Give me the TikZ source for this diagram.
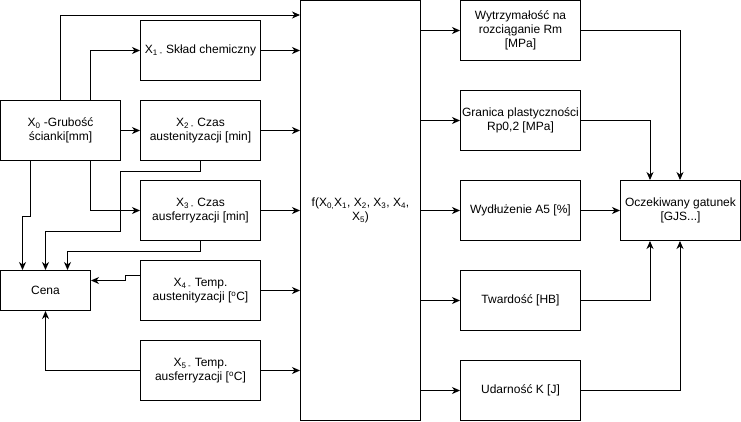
\documentclass[tikz,border=0pt]{standalone}
\usepackage{fontspec}
\setmainfont{Liberation Sans}
\usetikzlibrary{arrows.meta,calc}
\begin{document}
\begin{tikzpicture}[x=1pt,y=-1pt,
  box/.style={draw,line width=1pt,minimum width=120pt,minimum height=60pt,inner sep=1pt,align=center,font=\fontsize{12}{14}\selectfont},
  arr/.style={line width=1pt,-{Stealth[length=8pt,width=7pt,inset=2.5pt]}}]
\useasboundingbox (-0.5,-0.5) rectangle (740.5,420.5);
% left column
\node[box] (X0) at (60,130) {X\textsubscript{0} -Grubość\\ścianki[mm]};
\node[box] (X1) at (200,50) {X\textsubscript{1 -} Skład chemiczny};
\node[box] (X2) at (200,130) {X\textsubscript{2 -} Czas\\austenityzacji [min]};
\node[box] (X3) at (200,210) {X\textsubscript{3 -} Czas\\ausferryzacji [min]};
\node[box] (X4) at (200,290) {X\textsubscript{4 -} Temp.\\austenityzacji [\textsuperscript{o}C]};
\node[box] (X5) at (200,370) {X\textsubscript{5 -} Temp.\\ausferryzacji [\textsuperscript{o}C]};
\node[box,minimum width=90pt,minimum height=40pt] (Cena) at (45,290) {Cena};
% function
\node[box,minimum height=420pt] (f) at (360,210) {f(X\textsubscript{0,}X\textsubscript{1}, X\textsubscript{2}, X\textsubscript{3}, X\textsubscript{4},\\X\textsubscript{5})};
% outputs
\node[box] (Rm) at (520,30) {Wytrzymałość na\\rozciąganie Rm\\{[MPa]}};
\node[box] (Rp) at (520,120) {Granica plastyczności\\Rp0,2 [MPa]};
\node[box] (A5) at (520,210) {Wydłużenie A5 [\%]};
\node[box] (HB) at (520,300) {Twardość [HB]};
\node[box] (K) at (520,390) {Udarność K [J]};
\node[box] (Oc) at (680,210) {Oczekiwany gatunek\\{[GJS...]}};
% connectors from X0
\draw[arr] (X0.north) |- ($(f.north west)+(0,15)$);
\draw[arr] ($(X0.north west)+(90,0)$) |- (X1.west);
\draw[arr] (X0.east) -- (X2.west);
\draw[arr] ($(X0.south west)+(90,0)$) |- (X3.west);
\draw[arr] ($(X0.south west)+(30,0)$) -- ++(0,55) -| ($(Cena.north west)+(22.5,0)$);
% to f
\draw[arr] (X1.east) -- (X1.east -| f.west);
\draw[arr] (X2.east) -- (X2.east -| f.west);
\draw[arr] (X3.east) -- (X3.east -| f.west);
\draw[arr] (X4.east) -- (X4.east -| f.west);
\draw[arr] (X5.east) -- (X5.east -| f.west);
% to Cena
\draw[arr] (X2.south) -- ++(0,10) -- ++(-80,0) -- ++(0,60) -| (Cena.north);
\draw[arr] (X3.south) -- ++(0,10) -| ($(Cena.north west)+(67.5,0)$);
\draw[arr] ($(X4.west)+(0,-15)$) -- ++(-15,0) -- ++(0,5) -- ($(Cena.east)+(0,-10)$);
\draw[arr] (X5.west) -| (Cena.south);
% f to outputs
\draw[arr] (f.east |- Rm.west) -- (Rm.west);
\draw[arr] (f.east |- Rp.west) -- (Rp.west);
\draw[arr] (f.east |- A5.west) -- (A5.west);
\draw[arr] (f.east |- HB.west) -- (HB.west);
\draw[arr] (f.east |- K.west) -- (K.west);
% outputs to Oc
\draw[arr] (Rm.east) -| ($(Oc.north west)+(60,0)$);
\draw[arr] (Rp.east) -| ($(Oc.north west)+(30,0)$);
\draw[arr] (A5.east) -- (Oc.west);
\draw[arr] (HB.east) -| ($(Oc.south west)+(30,0)$);
\draw[arr] (K.east) -| ($(Oc.south west)+(60,0)$);
\end{tikzpicture}
\end{document}
